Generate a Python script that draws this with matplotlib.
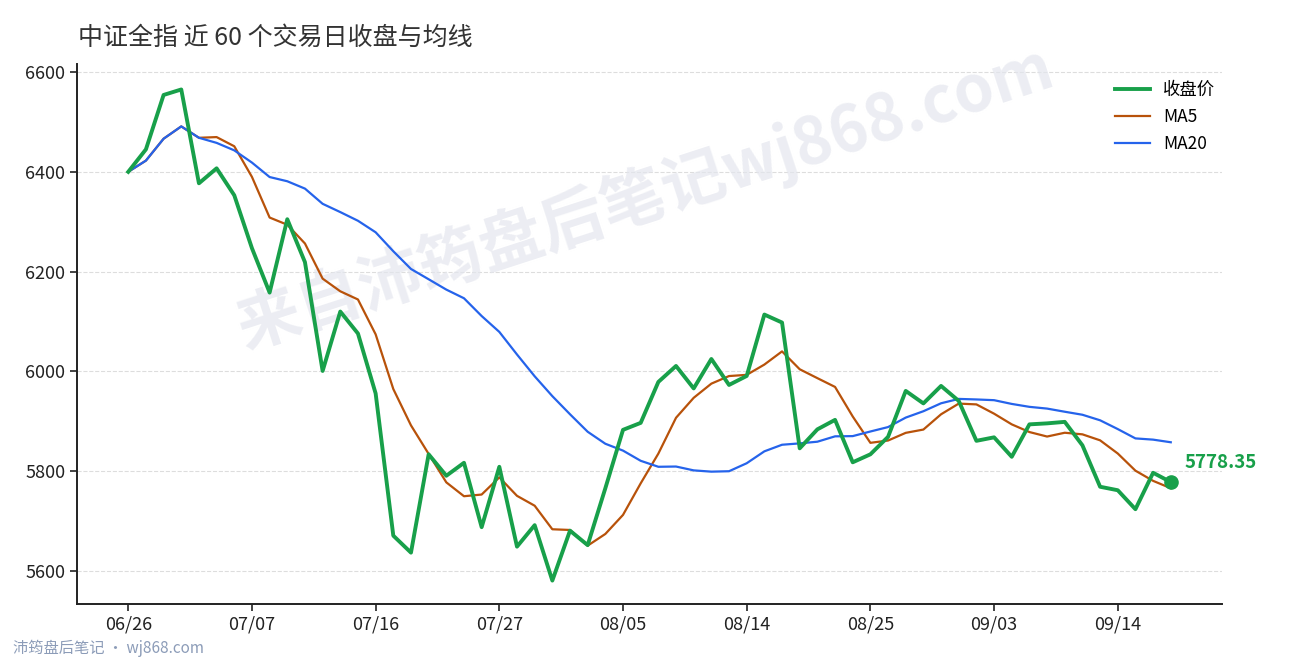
import numpy as np
import pandas as pd
import matplotlib
matplotlib.use("Agg")
import matplotlib.pyplot as plt

plt.rcParams["font.family"] = ["Noto Sans CJK SC", "DejaVu Sans"]

# closing prices, last 60 trading days
close = [
    6400, 6445, 6554, 6565, 6377, 6407, 6353, 6247, 6158, 6305,
    6219, 6001, 6120, 6076, 5956, 5671, 5637, 5834, 5791, 5817,
    5688, 5809, 5649, 5692, 5581, 5681, 5652, 5766, 5883, 5897,
    5979, 6011, 5966, 6025, 5973, 5991, 6114, 6098, 5846, 5884,
    5903, 5818, 5834, 5869, 5961, 5936, 5971, 5941, 5861, 5868,
    5829, 5894, 5896, 5899, 5852, 5769, 5762, 5724, 5797, 5778.35,
]
tick_idx = [0, 7, 14, 21, 28, 35, 42, 49, 56]
tick_labels = ["06/26", "07/07", "07/16", "07/27", "08/05", "08/14", "08/25", "09/03", "09/14"]
y_ticks = [5600, 5800, 6000, 6200, 6400, 6600]

s = pd.Series(close)
ma5 = s.rolling(5, min_periods=1).mean()
ma20 = s.rolling(20, min_periods=1).mean()
x = np.arange(len(close))

GREEN = "#18a04a"
ORANGE = "#b8520a"
BLUE = "#2563eb"

fig = plt.figure(figsize=(12.9, 6.6), dpi=100)
ax = fig.add_axes([0.0597, 0.0848, 0.8876, 0.8182])

ax.plot(x, close, color=GREEN, lw=2.8, label="收盘价", zorder=4)
ax.plot(x, ma5, color=ORANGE, lw=1.6, label="MA5", zorder=3)
ax.plot(x, ma20, color=BLUE, lw=1.6, label="MA20", zorder=3)

# last close marker + label
ax.scatter([x[-1]], [close[-1]], s=90, color=GREEN, zorder=5)
ax.annotate(f"{close[-1]:.2f}", (x[-1], close[-1]), xytext=(10, 14),
            textcoords="offset points", color=GREEN, fontsize=13.5,
            fontweight="bold", va="center", ha="left")

ax.set_xlim(-2.9, 61.9)
ax.set_ylim(5534, 6616)
ax.set_xticks(tick_idx)
ax.set_xticklabels(tick_labels)
ax.set_yticks(y_ticks)
ax.tick_params(labelsize=13, length=5, width=1.2, colors="#222222")
ax.grid(axis="y", ls="--", color="#dddddd", lw=0.8)
ax.set_axisbelow(True)
for side in ["top", "right"]:
    ax.spines[side].set_visible(False)
for side in ["left", "bottom"]:
    ax.spines[side].set_linewidth(1.4)
    ax.spines[side].set_color("#222222")

leg = ax.legend(loc="upper right", frameon=False, fontsize=12.5,
                bbox_to_anchor=(1.008, 0.997), handlelength=2.0)

# watermark, behind the lines
ax.text(0.5, 0.70, "来自沛筠盘后笔记wj868.com", transform=fig.transFigure,
        fontsize=46, fontweight="bold", color="#e4e6ee", alpha=0.7,
        rotation=18, ha="center", va="center", zorder=1)

fig.text(0.0605, 0.943, "中证全指 近 60 个交易日收盘与均线", fontsize=18,
         color="#333333", ha="left", va="center")
fig.text(0.01, 0.017, "沛筠盘后笔记 · wj868.com", fontsize=11,
         color="#8c9cb8", ha="left", va="center")

fig.savefig("out.png", dpi=100)
